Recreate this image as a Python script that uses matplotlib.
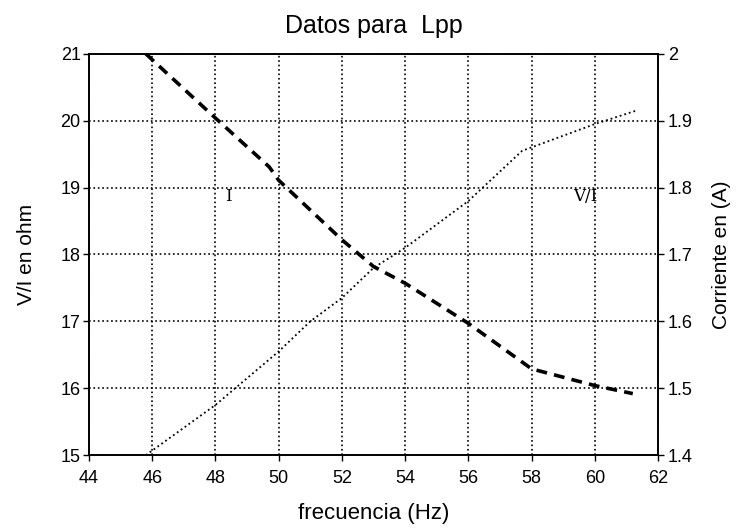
import matplotlib.pyplot as plt

plt.rcParams['font.family'] = ['Liberation Sans', 'DejaVu Sans']

# V/I (ohm) against frequency
f_vi = [45.8, 48.0, 50.0, 51.0, 52.0, 53.0, 54.0, 56.0, 57.7, 60.0, 61.3]
vi = [15.0, 15.75, 16.55, 17.0, 17.35, 17.8, 18.1, 18.8, 19.55, 19.95, 20.15]

# current (A) against frequency
f_i = [45.8, 48.0, 49.7, 50.0, 52.0, 53.0, 54.0, 56.0, 58.0, 60.0, 61.2]
corriente = [2.0, 1.904, 1.831, 1.811, 1.722, 1.682, 1.657, 1.597, 1.529, 1.504, 1.492]

xticks = [44, 46, 48, 50, 52, 54, 56, 58, 60, 62]
yticks_left = [15, 16, 17, 18, 19, 20, 21]
yticks_right = [1.4, 1.5, 1.6, 1.7, 1.8, 1.9, 2]

fig = plt.figure(figsize=(7.42, 5.28), dpi=100)
ax = fig.add_axes([0.1199, 0.138, 0.767, 0.76])
ax2 = ax.twinx()

ax.plot(f_vi, vi, color='black', linestyle=':', linewidth=1.3)
ax2.plot(f_i, corriente, color='black', linestyle=(0, (3, 2)), linewidth=2.6)

ax.set_xlim(44, 62)
ax.set_ylim(15, 21)
ax2.set_ylim(1.4, 2.0)
ax.set_xticks(xticks)
ax.set_yticks(yticks_left)
ax2.set_yticks(yticks_right)
ax2.set_yticklabels(['1.4', '1.5', '1.6', '1.7', '1.8', '1.9', '2'])

ax.grid(True, color='black', linestyle=':', linewidth=1.2)

for a in (ax, ax2):
    a.tick_params(direction='out', length=4, width=1, labelsize=13)
    for s in a.spines.values():
        s.set_linewidth(1.2)
ax.tick_params(axis='x', pad=7)
ax.tick_params(axis='y', pad=2)
ax2.tick_params(axis='y', pad=3)

ax.text(48.3, 18.8, 'I', fontsize=12, family='DejaVu Serif')
ax.text(59.3, 18.8, 'V/I', fontsize=12, family='DejaVu Serif')

ax.set_title('Datos para  Lpp', fontsize=18, pad=15)
ax.set_xlabel('frecuencia (Hz)', fontsize=16, labelpad=11)
ax.set_ylabel('V/I en ohm', fontsize=15, labelpad=18)
ax2.set_ylabel('Corriente en (A)', fontsize=15, labelpad=14)

fig.savefig('out.png')
